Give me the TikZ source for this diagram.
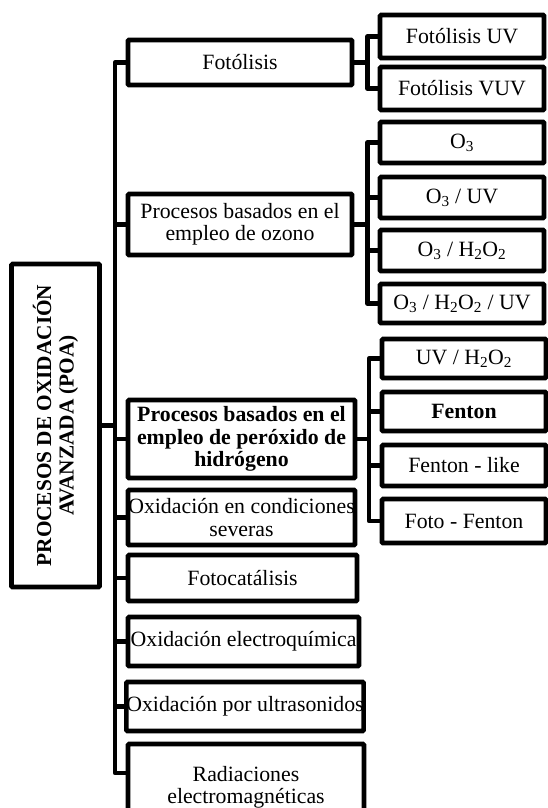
\documentclass[tikz,border=0pt]{standalone}
\usepackage{fontspec}
\setmainfont{Liberation Serif}
\begin{document}
\begin{tikzpicture}[x=1pt,y=-1pt,
  box/.style={draw,line width=4.6pt,rounded corners=1pt,inner sep=0pt,align=center,
    font=\fontsize{21.8}{22.3}\selectfont},
  conn/.style={draw,line width=4.6pt,line join=round}]
% box given by its border corners: [opts]{x1}{y1}{x2}{y2}{name}
\newcommand{\boxnode}[6][]{\node[box,#1,minimum width={(#4)-(#2)},minimum height={(#5)-(#3)}] (#6) at ({((#2)+(#4))/2},{((#3)+(#5))/2})}
\useasboundingbox (0,0) rectangle (547,808);

% root
\boxnode{11.5}{264}{99.5}{587}{poa} {};
\node[rotate=90,align=center,font=\fontsize{21.3}{22.3}\selectfont\bfseries] (poat) at (poa.center)
  {PROCESOS DE OXIDACIÓN\\AVANZADA (POA)};

% first level
\boxnode{128}{40}{352}{85}{fot} {Fotólisis};
\boxnode{128}{194}{352}{255}{ozo} {Procesos basados en el\\empleo de ozono};
\boxnode[font=\fontsize{21.8}{22.3}\selectfont\bfseries]{128}{400}{355}{478}{per} {Procesos basados en el\\empleo de peróxido de\\hidrógeno};
\boxnode{128}{490}{355}{545}{sev} {Oxidación en condiciones\\severas};
\boxnode{128}{555}{357}{601}{cat} {Fotocatálisis};
\boxnode{128}{617}{359}{666}{ele} {Oxidación electroquímica};
\boxnode{128}{682}{362}{731}{ult} {Oxidación por ultrasonidos};
\boxnode{128}{744}{364}{830}{rad} {Radiaciones\\electromagnéticas};

% second level: photolysis
\boxnode{380}{15}{544}{58}{fuv} {Fotólisis UV};
\boxnode{380}{67}{544}{110}{fvuv} {Fotólisis VUV};
% second level: ozone
\boxnode{380}{122}{544}{163}{o1} {O\textsubscript{3}};
\boxnode{380}{177}{544}{218}{o2} {O\textsubscript{3} / UV};
\boxnode{380}{230}{544}{271}{o3} {O\textsubscript{3} / H\textsubscript{2}O\textsubscript{2}};
\boxnode{380}{284}{544}{323}{o4} {O\textsubscript{3} / H\textsubscript{2}O\textsubscript{2} / UV};
% second level: hydrogen peroxide
\boxnode{382}{339}{546}{378}{p1} {UV / H\textsubscript{2}O\textsubscript{2}};
\boxnode[font=\fontsize{21.8}{22.3}\selectfont\bfseries]{382}{392}{546}{431}{p2} {Fenton};
\boxnode{382}{445}{546}{486}{p3} {Fenton - like};
\boxnode{382}{499}{546}{543}{p4} {Foto - Fenton};

% main trunk
\coordinate (tr) at (115,0);
\coordinate (rstub) at (128,773);
\draw[conn] (fot.west) -- (fot.west -| tr) |- (rstub);
\draw[conn] (poa.east) -- (poa.east -| tr);
\foreach \n in {ozo,per,sev,cat,ele,ult}
  \draw[conn] (\n.west) -- (\n.west -| tr);

% photolysis branch
\coordinate (sa) at (367.5,0);
\draw[conn] (fot.east) -- (fot.east -| sa);
\draw[conn] (fuv.west) -- (fuv.west -| sa) |- (fvuv.west);

% ozone branch
\draw[conn] (ozo.east) -- (ozo.east -| sa);
\draw[conn] (o1.west) -- (o1.west -| sa) |- (o4.west);
\draw[conn] (o2.west) -- (o2.west -| sa);
\draw[conn] (o3.west) -- (o3.west -| sa);

% peroxide branch
\coordinate (sb) at (369,0);
\draw[conn] (per.east) -- (per.east -| sb);
\draw[conn] (p1.west) -- (p1.west -| sb) |- (p4.west);
\draw[conn] (p2.west) -- (p2.west -| sb);
\draw[conn] (p3.west) -- (p3.west -| sb);
\end{tikzpicture}
\end{document}
